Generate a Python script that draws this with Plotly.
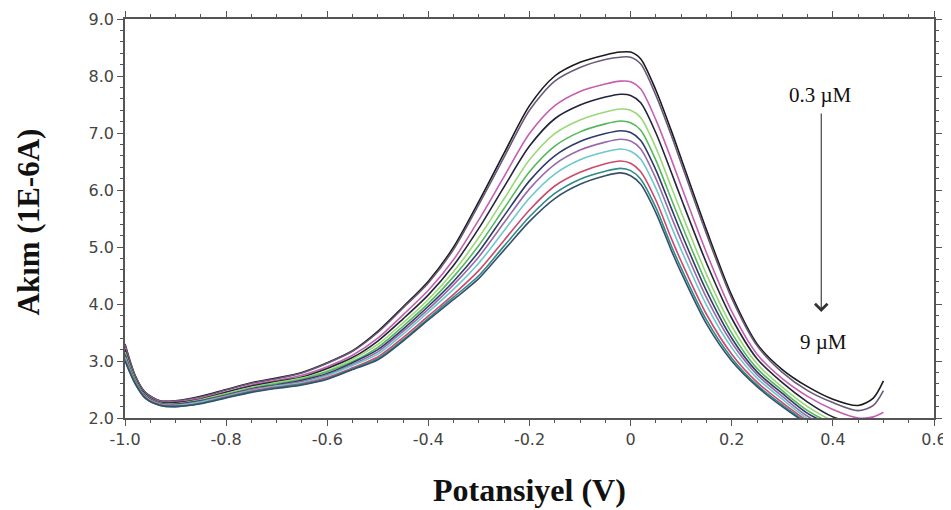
import plotly.graph_objects as go

# Potential (V) sampling points shared by all voltammograms
potential = [-1.0, -0.98, -0.96, -0.93, -0.9, -0.85, -0.8, -0.75, -0.7, -0.65, -0.6, -0.55,
             -0.5, -0.45, -0.4, -0.35, -0.3, -0.25, -0.2, -0.15, -0.1, -0.05, -0.02, 0.0,
             0.02, 0.05, 0.08, 0.1, 0.15, 0.2, 0.25, 0.3, 0.35, 0.4, 0.45, 0.48, 0.5]

# Current (1E-6 A) for each concentration, highest peak (0.3 uM) to lowest (9 uM)
current_c01 = [3.30, 2.75, 2.45, 2.30, 2.30, 2.38, 2.50, 2.62, 2.70, 2.80, 2.97, 3.18, 3.52, 3.95, 4.40, 5.00, 5.80, 6.65, 7.48, 8.00, 8.24, 8.37, 8.42, 8.42, 8.30, 7.75, 7.05, 6.55, 5.30, 4.15, 3.30, 2.85, 2.55, 2.33, 2.22, 2.35, 2.65]
current_c02 = [3.29, 2.74, 2.45, 2.30, 2.30, 2.37, 2.49, 2.61, 2.69, 2.79, 2.96, 3.17, 3.50, 3.93, 4.37, 4.96, 5.75, 6.58, 7.40, 7.91, 8.15, 8.29, 8.33, 8.33, 8.21, 7.66, 6.97, 6.47, 5.23, 4.10, 3.27, 2.80, 2.48, 2.27, 2.13, 2.22, 2.48]
current_c03 = [3.23, 2.71, 2.43, 2.28, 2.28, 2.35, 2.46, 2.58, 2.66, 2.75, 2.90, 3.10, 3.40, 3.81, 4.24, 4.78, 5.48, 6.24, 6.99, 7.48, 7.73, 7.86, 7.91, 7.90, 7.77, 7.23, 6.55, 6.07, 4.90, 3.87, 3.12, 2.69, 2.38, 2.15, 2.00, 2.02, 2.10]
current_c04 = [3.20, 2.70, 2.42, 2.27, 2.27, 2.33, 2.45, 2.56, 2.64, 2.72, 2.87, 3.06, 3.35, 3.74, 4.16, 4.68, 5.33, 6.06, 6.77, 7.25, 7.49, 7.63, 7.68, 7.66, 7.53, 7.00, 6.32, 5.85, 4.72, 3.75, 3.04, 2.62, 2.28, 2.02, 1.88, 1.80, 1.80]
current_c05 = [3.16, 2.68, 2.40, 2.26, 2.25, 2.32, 2.43, 2.54, 2.62, 2.70, 2.83, 3.03, 3.29, 3.67, 4.08, 4.57, 5.17, 5.85, 6.53, 6.99, 7.23, 7.37, 7.42, 7.40, 7.27, 6.74, 6.06, 5.61, 4.52, 3.61, 2.95, 2.54, 2.20, 1.95, 1.80, 1.75, 1.75]
current_c06 = [3.13, 2.66, 2.39, 2.25, 2.24, 2.31, 2.41, 2.52, 2.60, 2.68, 2.81, 2.99, 3.24, 3.61, 4.01, 4.48, 5.03, 5.68, 6.32, 6.77, 7.02, 7.16, 7.21, 7.18, 7.05, 6.52, 5.85, 5.41, 4.36, 3.49, 2.87, 2.48, 2.13, 1.90, 1.75, 1.70, 1.70]
current_c07 = [3.11, 2.65, 2.39, 2.25, 2.24, 2.30, 2.40, 2.51, 2.58, 2.66, 2.78, 2.97, 3.20, 3.56, 3.96, 4.40, 4.92, 5.55, 6.16, 6.60, 6.85, 6.99, 7.04, 7.01, 6.87, 6.35, 5.69, 5.25, 4.23, 3.40, 2.81, 2.43, 2.08, 1.87, 1.72, 1.68, 1.68]
current_c08 = [3.08, 2.64, 2.38, 2.24, 2.23, 2.29, 2.39, 2.50, 2.57, 2.64, 2.76, 2.94, 3.16, 3.52, 3.91, 4.34, 4.83, 5.43, 6.02, 6.45, 6.70, 6.84, 6.89, 6.86, 6.72, 6.20, 5.54, 5.11, 4.11, 3.32, 2.76, 2.38, 2.03, 1.82, 1.70, 1.65, 1.65]
current_c09 = [3.06, 2.63, 2.37, 2.24, 2.22, 2.28, 2.38, 2.48, 2.56, 2.62, 2.74, 2.92, 3.12, 3.47, 3.86, 4.26, 4.72, 5.29, 5.86, 6.28, 6.53, 6.67, 6.72, 6.68, 6.54, 6.03, 5.37, 4.95, 3.98, 3.23, 2.70, 2.33, 1.99, 1.78, 1.68, 1.62, 1.62]
current_c10 = [3.03, 2.62, 2.36, 2.23, 2.21, 2.26, 2.37, 2.47, 2.54, 2.60, 2.71, 2.88, 3.07, 3.41, 3.79, 4.17, 4.59, 5.12, 5.65, 6.07, 6.31, 6.46, 6.51, 6.47, 6.32, 5.82, 5.16, 4.75, 3.82, 3.12, 2.63, 2.27, 1.95, 1.74, 1.62, 1.60, 1.60]
current_c11 = [3.01, 2.61, 2.35, 2.22, 2.20, 2.26, 2.36, 2.46, 2.53, 2.59, 2.69, 2.86, 3.04, 3.37, 3.75, 4.12, 4.50, 5.02, 5.53, 5.94, 6.19, 6.33, 6.38, 6.34, 6.19, 5.69, 5.03, 4.63, 3.72, 3.05, 2.58, 2.23, 1.92, 1.72, 1.60, 1.60, 1.60]
current_c12 = [3.00, 2.60, 2.35, 2.22, 2.20, 2.25, 2.35, 2.45, 2.52, 2.58, 2.68, 2.85, 3.02, 3.35, 3.72, 4.08, 4.45, 4.95, 5.45, 5.85, 6.10, 6.25, 6.30, 6.25, 6.10, 5.60, 4.95, 4.55, 3.65, 3.00, 2.55, 2.20, 1.90, 1.70, 1.60, 1.60, 1.60]

series = [current_c01, current_c02, current_c03, current_c04, current_c05, current_c06,
          current_c07, current_c08, current_c09, current_c10, current_c11, current_c12]
series_colors = ["#1a1a1a", "#6a5a7a", "#c65fb0", "#23233a", "#9ad878", "#55b85a",
                 "#2f3a6a", "#9a6aa8", "#6cc8cc", "#cc4a6a", "#2f8a8a", "#35506a"]

x_tick_vals = [-1.0, -0.8, -0.6, -0.4, -0.2, 0.0, 0.2, 0.4, 0.6]
x_tick_text = ["-1.0", "-0.8", "-0.6", "-0.4", "-0.2", "0", "0.2", "0.4", "0.6"]
y_tick_vals = [2.0, 3.0, 4.0, 5.0, 6.0, 7.0, 8.0, 9.0]
y_tick_text = ["2.0", "3.0", "4.0", "5.0", "6.0", "7.0", "8.0", "9.0"]

fig = go.Figure()
for ys, col in zip(series, series_colors):
    fig.add_trace(go.Scatter(
        x=potential, y=ys, mode="lines", showlegend=False,
        line=dict(color=col, width=1.6, shape="spline", smoothing=0.8),
        hoverinfo="skip"))

axis_color = "#555555"
tick_font = dict(family="DejaVu Sans, Liberation Sans, sans-serif", size=16, color="#444444")

fig.update_xaxes(
    range=[-1.0, 0.6], tickmode="array", tickvals=x_tick_vals, ticktext=x_tick_text,
    showline=True, linecolor=axis_color, linewidth=1.5, mirror="allticks",
    ticks="outside", ticklen=6, tickwidth=1.2, tickcolor=axis_color,
    minor=dict(tickmode="linear", tick0=-1.0, dtick=0.05, ticks="outside",
               ticklen=3, tickcolor=axis_color, tickwidth=1),
    showgrid=False, zeroline=False, tickfont=tick_font, automargin=False)
fig.update_yaxes(
    range=[2.0, 9.0], tickmode="array", tickvals=y_tick_vals, ticktext=y_tick_text,
    showline=True, linecolor=axis_color, linewidth=1.5, mirror="allticks",
    ticks="outside", ticklen=6, tickwidth=1.2, tickcolor=axis_color,
    minor=dict(tickmode="linear", tick0=2.0, dtick=0.2, ticks="outside",
               ticklen=3, tickcolor=axis_color, tickwidth=1),
    showgrid=False, zeroline=False, tickfont=tick_font, automargin=False)

title_font_x = dict(family="Liberation Serif, Times New Roman, serif", size=32, color="#111111")
title_font_y = dict(family="Liberation Serif, Times New Roman, serif", size=31, color="#111111")
label_font = dict(family="Liberation Serif, Times New Roman, serif", size=21, color="#111111")

fig.add_annotation(text="<b>Potansiyel (V)</b>", xref="paper", yref="paper",
                   x=0.5, y=-0.18, xanchor="center", yanchor="middle",
                   showarrow=False, font=title_font_x)
fig.add_annotation(text="<b>Akım (1E-6A)</b>", xref="paper", yref="paper",
                   x=-0.1199, y=0.49, xanchor="center", yanchor="middle", textangle=-90,
                   showarrow=False, font=title_font_y)

# concentration arrow
fig.add_annotation(x=0.377, y=3.86, ax=0.377, ay=7.37, xref="x", yref="y",
                   axref="x", ayref="y", text="", showarrow=True,
                   arrowhead=4, arrowsize=2.2, arrowwidth=1.1, arrowcolor="#333333")
fig.add_annotation(x=0.375, y=7.66, xref="x", yref="y", text="0.3 µM",
                   showarrow=False, font=label_font, xanchor="center", yanchor="middle")
fig.add_annotation(x=0.382, y=3.34, xref="x", yref="y", text="9 µM",
                   showarrow=False, font=label_font, xanchor="center", yanchor="middle")

# page body has an 8px margin, so the figure is sized/offset to keep the plot area in place
fig.update_layout(
    width=943, height=502,
    margin=dict(l=117, r=17, t=11, b=92),
    plot_bgcolor="white", paper_bgcolor="white")

fig.write_html("out.html")
